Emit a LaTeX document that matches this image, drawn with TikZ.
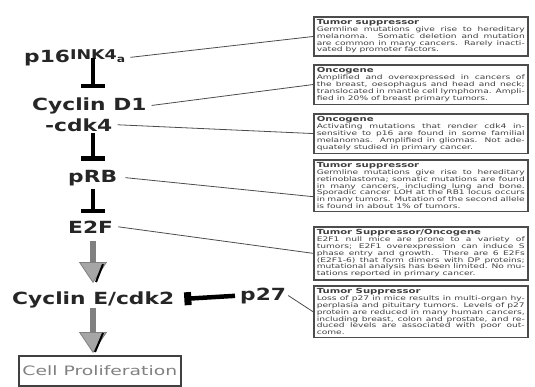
\documentclass[tikz,border=0pt]{standalone}
\usepackage{fontspec}
\setmainfont{DejaVu Sans}
\newfontfamily\labfont[FakeStretch=1.3]{DejaVu Sans}
\newfontfamily\boxfont[FakeStretch=1.45]{DejaVu Sans}
\usetikzlibrary{arrows.meta}

\begin{document}
\begin{tikzpicture}[x=1bp,y=-1bp, line join=miter,
  every node/.style={inner sep=0pt},
  gene/.style={anchor=base west, font=\labfont\bfseries\fontsize{16.8}{20}\selectfont, text=black!85},
  info/.style={draw=black!70, line width=1.5bp, fill=white, anchor=north west,
    text width=208bp, inner sep=3bp, align=justify,
    font=\boxfont\fontsize{6.3}{6.8}\selectfont, text=black!75},
  inhib/.style={line width=4.5bp, -{Bar[width=24bp]}},
  promote/.style={draw=black!50, line width=6bp,
    -{Triangle[width=28bp,length=21bp,line width=0.8bp,fill=black!35]}},
  slash/.style={line width=2bp},
  link/.style={draw=black!70, line width=0.8bp}]
  \useasboundingbox (0,0) rectangle (535,386);
  \coordinate (col) at (93,0);
  % pathway
  \node[gene] (p16) at (24,62) {p16{\fontsize{13.5}{13.5}\selectfont\raisebox{3bp}{INK4}}{\fontsize{9.5}{9.5}\selectfont a}};
  \node[gene] (cycd1) at (32,110) {Cyclin D1};
  \node[gene] (cdk4) at (45,131) {-cdk4};
  \node[gene] (prb) at (68,182) {pRB};
  \node[gene] (e2f) at (68,233) {E2F};
  \node[gene] (cyce) at (12,304) {Cyclin E/cdk2};
  \node[gene] (p27) at (240,300) {p27};
  \node[draw=black!75, line width=1.6bp, anchor=north west, minimum width=162bp, minimum height=30bp,
    font=\boxfont\fontsize{13}{16}\selectfont, text=black!50] (prolif) at (18,355) {Cell Proliferation};
  % inhibition and activation
  \draw[inhib, shorten <=-8bp, shorten >=9bp] (p16.south -| col) -- (cycd1.north -| col);
  \draw[inhib, shorten <=2bp, shorten >=9bp] (cdk4.south -| col) -- (prb.north -| col);
  \draw[inhib, shorten <=3bp, shorten >=7bp] (prb.south -| col) -- (e2f.north -| col);
  \draw[promote, shorten <=8bp, shorten >=8bp] (e2f.south -| col) -- (cyce.north -| col) coordinate (tipa);
  \draw[promote, shorten <=0bp, shorten >=2bp] (cyce.south -| col) -- (prolif.north -| col) coordinate (tipb);
  \draw[slash] ([shift={(10,-27)}]tipa) -- ([shift={(3,-9)}]tipa);
  \draw[slash] ([shift={(10,-22)}]tipb) -- ([shift={(2,-3)}]tipb);
  \draw[line width=4.5bp, -{Bar[width=13bp,line width=7bp]}, shorten <=5bp, shorten >=10bp] (p27.west) -- (cyce.east);
  % notes
  \node[info] (box1) at (313,16) {{\bfseries\fontsize{7}{6.8}\selectfont Tumor suppressor}\\
    Germline mutations give rise to hereditary melanoma. Somatic deletion and mutation are common in many cancers. Rarely inactivated by promoter factors.};
  \node[info] (box2) at (313,64) {{\bfseries\fontsize{7}{6.8}\selectfont Oncogene}\\
    Amplified and overexpressed in cancers of the breast, oesophagus and head and neck; translocated in mantle cell lymphoma. Amplified in 20\% of breast primary tumors.};
  \node[info] (box3) at (313,113) {{\bfseries\fontsize{7}{6.8}\selectfont Oncogene}\\
    Activating mutations that render cdk4 insensitive to p16 are found in some familial melanomas. Amplified in gliomas. Not adequately studied in primary cancer.};
  \node[info] (box4) at (313,159) {{\bfseries\fontsize{7}{6.8}\selectfont Tumor suppressor}\\
    Germline mutations give rise to hereditary retinoblastoma; somatic mutations are found in many cancers, including lung and bone. Sporadic cancer LOH at the RB1 locus occurs in many tumors. Mutation of the second allele is found in about 1\% of tumors.};
  \node[info] (box5) at (313,226) {{\bfseries\fontsize{7}{6.8}\selectfont Tumor Suppressor/Oncogene}\\
    E2F1 null mice are prone to a variety of tumors; E2F1 overexpression can induce S phase entry and growth. There are 6 E2Fs (E2F1-6) that form dimers with DP proteins; mutational analysis has been limited. No mutations reported in primary cancer.};
  \node[info] (box6) at (313,285) {{\bfseries\fontsize{7}{6.8}\selectfont Tumor Suppressor}\\
    Loss of p27 in mice results in multi-organ hyperplasia and pituitary tumors. Levels of p27 protein are reduced in many human cancers, including breast, colon and prostate, and reduced levels are associated with poor outcome.};
  % links
  \draw[link] ([xshift=5bp]p16.east) -- (box1.west);
  \draw[link] ([xshift=5bp]cycd1.east) -- (box2.west);
  \draw[link] ([xshift=5bp]cdk4.east) -- (box3.west);
  \draw[link] ([xshift=8bp]prb.east) -- ([yshift=-11bp]box4.west);
  \draw[link] ([xshift=5bp]e2f.east) -- (box5.west);
  \draw[link] ([xshift=2bp]p27.east) -- (box6.west);
\end{tikzpicture}
\end{document}
